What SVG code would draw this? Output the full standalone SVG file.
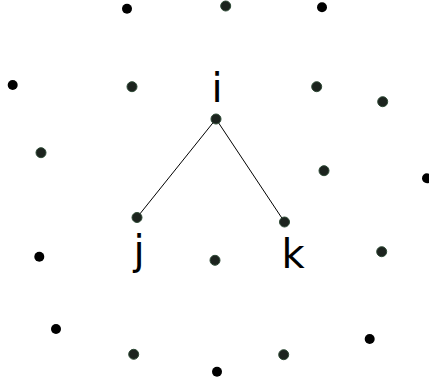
<svg xmlns="http://www.w3.org/2000/svg" width="429" height="385" viewBox="0 0 429 385">
<style>
.b{fill:#000}
.g{fill:#1c231e;stroke:#2e4a36;stroke-width:1}
.lbl{font-family:"DejaVu Sans",sans-serif;font-size:40px;fill:#000;text-anchor:middle}
.e{stroke:#000;stroke-width:1;fill:none}
</style>
<rect width="429" height="385" fill="#fff"/>
<g id="connectors">
<line class="e" x1="216" y1="119" x2="137" y2="217.5"/>
<line class="e" x1="216" y1="119" x2="284.5" y2="222"/>
</g>
<g id="node-i"><circle class="g" cx="216" cy="119" r="5"/><text class="lbl" x="217" y="102">i</text></g>
<g id="node-j"><circle class="g" cx="137" cy="217.5" r="5"/><text class="lbl" x="139" y="264">j</text></g>
<g id="node-k"><circle class="g" cx="284.5" cy="222" r="5"/><text class="lbl" x="293" y="268">k</text></g>
<g id="dots">
<circle class="b" cx="127" cy="8.7" r="5"/>
<circle class="g" cx="225.7" cy="6" r="5"/>
<circle class="b" cx="322" cy="7.3" r="5"/>
<circle class="b" cx="12.7" cy="85" r="5"/>
<circle class="g" cx="132" cy="86.7" r="5"/>
<circle class="g" cx="316.7" cy="86.7" r="5"/>
<circle class="g" cx="382.7" cy="101.7" r="5"/>
<circle class="g" cx="41" cy="152.7" r="5"/>
<circle class="g" cx="324" cy="170.7" r="5"/>
<circle class="b" cx="427" cy="178.3" r="5"/>
<circle class="b" cx="39.3" cy="256.7" r="5"/>
<circle class="g" cx="215" cy="260.3" r="5"/>
<circle class="g" cx="381.7" cy="251.7" r="5"/>
<circle class="b" cx="56" cy="329" r="5"/>
<circle class="b" cx="369.7" cy="339" r="5"/>
<circle class="g" cx="133.7" cy="354.3" r="5"/>
<circle class="g" cx="283.7" cy="354.7" r="5"/>
<circle class="b" cx="217" cy="371.7" r="5"/>
</g>
</svg>
